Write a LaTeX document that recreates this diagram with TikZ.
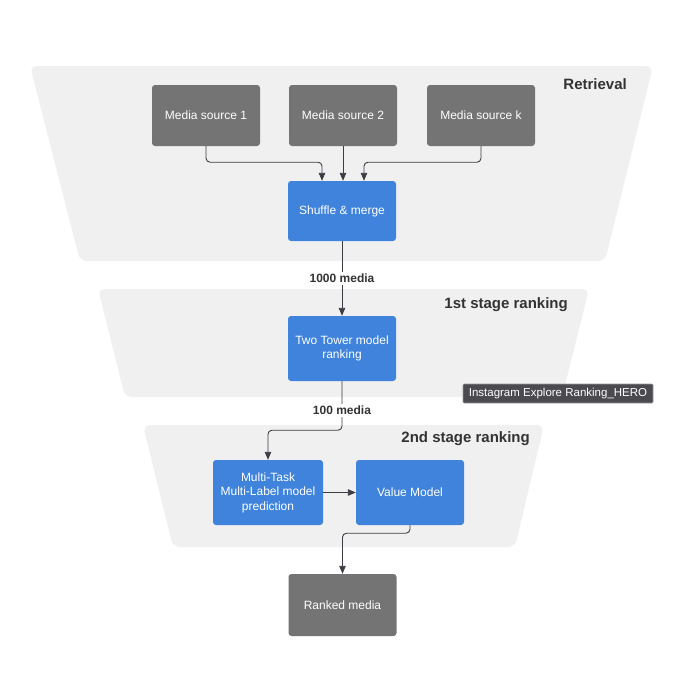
\documentclass[tikz,border=0pt]{standalone}
\usepackage{fontspec}
\setmainfont{Liberation Sans}
\usetikzlibrary{arrows.meta,calc}

\definecolor{funnel}{HTML}{F0F0F0}
\definecolor{srcgray}{HTML}{747474}
\definecolor{modelblue}{HTML}{3F83DC}
\definecolor{wire}{HTML}{3C3C44}
\definecolor{titlegray}{HTML}{333333}
\definecolor{tagbg}{HTML}{4B4A4F}
\definecolor{tagedge}{HTML}{9A9A9A}

\tikzset{
  box/.style={rectangle, rounded corners=3pt, text=white, align=center,
    font=\fontsize{12}{14.5}\selectfont, inner sep=2pt},
  srcbox/.style={box, fill=srcgray, minimum width=108pt, minimum height=61pt},
  modelbox/.style={box, fill=modelblue, minimum width=108pt, minimum height=62pt},
  stage/.style={fill=funnel, rounded corners=7pt},
  stagetitle/.style={anchor=east, inner sep=0pt, text=titlegray,
    font=\fontsize{15}{18}\selectfont\bfseries},
  conn/.style={draw=wire, line width=0.9pt, rounded corners=4pt,
    -{Triangle[length=8pt,width=6.5pt]}},
  lbl/.style={fill=white, text=titlegray, inner sep=2pt,
    font=\fontsize{12}{14}\selectfont\bfseries},
}

\begin{document}
\begin{tikzpicture}[x=1pt, y=-1pt]
  \useasboundingbox (0,0) rectangle (695,680);
  \fill[white] (0,0) rectangle (695,680);

  % funnel stages
  \fill[stage] (30,66) -- (653,66) -- (605,261) -- (80,261) -- cycle;
  \fill[stage] (98,289) -- (589,289) -- (562,397) -- (125,397) -- cycle;
  \fill[stage] (143,425) -- (544,425) -- (515,547) -- (173,547) -- cycle;

  \node[stagetitle] (tRet) at (627,84) {Retrieval};
  \node[stagetitle] (tFirst) at (568,305) {1st stage ranking};
  \node[stagetitle] (tSecond) at (530,439) {2nd stage ranking};

  % retrieval sources
  \node[srcbox] (src1) at (206,115.5) {Media source 1};
  \node[srcbox] (src2) at (343,115.5) {Media source 2};
  \node[srcbox] (srck) at (481,115.5) {Media source k};

  % models
  \node[modelbox, minimum height=60pt] (shuffle) at (342,211) {Shuffle \& merge};
  \node[modelbox, minimum height=65pt] (tower) at (342,348.5) {Two Tower model\\ranking};
  \node[modelbox, minimum width=110pt, minimum height=65pt] (mtml) at (268,492.5)
    {Multi-Task\\Multi-Label model\\prediction};
  \node[modelbox, minimum height=65pt] (value) at (410,492.5) {Value Model};
  \node[srcbox, minimum height=62pt] (ranked) at (342.5,605) {Ranked media};

  % connectors
  \draw[conn] (src1.south) -- ++(0,16) -| ([xshift=-20pt]shuffle.north);
  \draw[conn] (src2.south) -- (src2.south |- shuffle.north);
  \draw[conn] (srck.south) -- ++(0,16) -| ([xshift=22pt]shuffle.north);
  \draw[conn] (shuffle.south) -- node[lbl] {1000 media} (tower.north);
  \draw[conn] (tower.south) -- node[lbl, pos=0.6] {100 media} ++(0,49) -| (mtml.north);
  \draw[conn] (mtml.east) -- (value.west);
  \draw[conn] (value.south) -- ++(0,8) -| (ranked.north);

  % floating tag
  \node[fill=tagbg, draw=tagedge, line width=0.6pt, rounded corners=1pt,
    text=white, minimum width=190pt, minimum height=19pt, inner sep=0pt,
    font=\fontsize{11.5}{13}\selectfont] (tag) at (558,393.5)
    {Instagram Explore Ranking\_HERO};
\end{tikzpicture}
\end{document}
